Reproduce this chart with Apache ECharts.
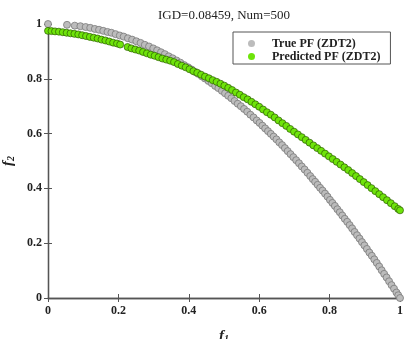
<!DOCTYPE html>
<html><head><meta charset="utf-8">
<script src="https://cdn.jsdelivr.net/npm/echarts@6/dist/echarts.min.js"></script>
<style>html,body{margin:0;padding:0;background:#fff}#c{width:404px;height:339px}</style>
</head><body><div id="c"></div>
<script>
const titleText = 'IGD=0.08459, Num=500';
const seriesNames = ['True PF (ZDT2)', 'Predicted PF (ZDT2)'];
const xTicks = [0, 0.2, 0.4, 0.6, 0.8, 1];
const yTicks = [0, 0.2, 0.4, 0.6, 0.8, 1];

const trueF1 = [0,0.054,0.076,0.092,0.107,0.120,0.133,0.145,0.157,0.169,0.180,0.192,0.204,0.215,0.227,0.239,0.251,0.263,0.275,0.287,0.299,
0.310,0.321,0.332,0.343,0.354,0.365,0.376,0.387,0.398,
0.408,0.418,0.427,0.437,0.446,0.456,0.465,0.475,0.484,0.494,0.503,0.512,0.521,0.530,0.539,0.548,0.557,0.566,0.575,0.584,0.593,
0.601,0.609,0.617,0.625,0.633,0.641,0.649,0.657,0.665,0.673,0.681,0.689,0.697,0.705,0.713,0.721,0.729,0.737,0.745,0.752,0.759,0.766,0.773,0.780,0.787,0.794,
0.801,0.808,0.815,0.822,0.829,0.836,0.843,0.850,0.857,0.864,0.871,0.878,0.885,0.892,0.899,0.906,0.913,0.920,0.927,0.934,0.941,0.948,0.955,0.962,0.969,0.976,0.983,0.990,0.995,1.000];
const trueF2 = [1.000,0.997,0.994,0.992,0.989,0.986,0.982,0.979,0.975,0.971,0.968,0.963,0.958,0.954,0.948,0.943,0.937,0.931,0.924,0.918,0.911,
0.904,0.897,0.890,0.882,0.875,0.867,0.859,0.850,0.842,
0.834,0.825,0.818,0.809,0.801,0.792,0.784,0.774,0.766,0.756,0.747,0.738,0.729,0.719,0.709,0.700,0.690,0.680,0.669,0.659,0.648,
0.639,0.629,0.619,0.609,0.599,0.589,0.579,0.568,0.558,0.547,0.536,0.525,0.514,0.503,0.492,0.480,0.469,0.457,0.445,0.434,0.424,0.413,0.402,0.392,0.381,0.370,
0.358,0.347,0.336,0.324,0.313,0.301,0.289,0.278,0.266,0.254,0.241,0.229,0.217,0.204,0.192,0.179,0.166,0.154,0.141,0.128,0.115,0.101,0.088,0.075,0.061,0.047,0.034,0.020,0.010,0.000];

const predF1 = [0.000,0.010,0.020,0.031,0.042,0.053,0.064,0.075,0.086,0.097,0.108,0.119,0.130,0.141,0.152,0.163,0.174,0.185,0.196,0.205,
0.226,0.237,0.248,0.259,0.270,0.281,0.292,0.303,0.314,0.325,0.336,0.347,0.358,0.369,0.380,0.391,0.402,0.413,0.424,0.435,0.446,0.457,0.468,0.479,0.490,
0.501,0.512,0.523,0.534,0.545,0.556,0.567,0.578,0.589,0.600,0.611,0.622,0.633,0.644,0.655,0.666,0.677,0.688,0.699,0.710,0.721,0.732,0.743,0.754,0.765,
0.776,0.787,0.798,0.809,0.820,0.831,0.842,0.853,0.864,0.875,0.886,0.897,0.908,0.919,0.930,0.941,0.952,0.963,0.974,0.985,0.995,1.000];
const predF2 = [0.975,0.974,0.973,0.972,0.970,0.968,0.966,0.964,0.962,0.959,0.956,0.953,0.950,0.947,0.943,0.940,0.936,0.932,0.929,0.925,
0.916,0.911,0.907,0.903,0.898,0.893,0.888,0.884,0.879,0.874,0.870,0.866,0.861,0.854,0.848,0.842,0.835,0.828,0.822,0.815,0.808,0.802,0.795,0.789,0.782,
0.775,0.767,0.759,0.750,0.742,0.733,0.725,0.716,0.707,0.698,0.688,0.678,0.669,0.659,0.648,0.638,0.628,0.617,0.607,0.597,0.587,0.577,0.567,0.557,0.547,
0.537,0.527,0.517,0.507,0.497,0.487,0.477,0.467,0.456,0.445,0.434,0.423,0.412,0.401,0.390,0.379,0.368,0.357,0.346,0.335,0.325,0.320];

const FONT = '"Liberation Serif", "Times New Roman", serif';
const zip = (a, b) => a.map((v, i) => [v, b[i]]);

const chart = echarts.init(document.getElementById('c'), null, {renderer: 'canvas'});
const axisLine = {show: true, lineStyle: {color: '#555', width: 1.3}};
const tick = {show: true, inside: true, length: 4, lineStyle: {color: '#555', width: 1}};
const lbl = {fontFamily: FONT, fontWeight: 'bold', fontSize: 12, color: '#222'};
const nameRich = {
  f: {fontFamily: FONT, fontStyle: 'italic', fontWeight: 'bold', fontSize: 15, color: '#222'},
  s: {fontFamily: FONT, fontStyle: 'italic', fontWeight: 'bold', fontSize: 10, color: '#222', verticalAlign: 'bottom', padding: [6, 0, 0, 0]}
};
chart.setOption({
  animation: false,
  backgroundColor: '#fff',
  title: {
    text: titleText, left: 224, top: 9, textAlign: 'center', padding: 0,
    textStyle: {fontFamily: FONT, fontWeight: 'normal', fontSize: 13, color: '#222'}
  },
  grid: {left: 48, right: 4, top: 24, bottom: 41, containLabel: false, outerBoundsMode: 'none'},
  legend: {
    orient: 'vertical', left: 233, top: 32,
    padding: [5, 10, 1, 15], itemGap: 0, itemWidth: 7, itemHeight: 7,
    borderColor: '#555', borderWidth: 1, backgroundColor: '#fff',
    data: seriesNames.map(n => ({name: n, icon: 'circle', itemStyle: {borderWidth: 0}})),
    textStyle: {fontFamily: FONT, fontWeight: 'bold', fontSize: 12, color: '#222', lineHeight: 13, padding: [0, 0, 0, 12]}
  },
  xAxis: [
    {type: 'value', min: 0, max: 1, interval: 0.2, position: 'bottom',
     axisLine, axisTick: tick, splitLine: {show: false},
     axisLabel: Object.assign({margin: 7, formatter: v => String(+v.toFixed(1))}, lbl),
     name: '{f|f}{s|1}', nameLocation: 'middle', nameGap: 30, nameTextStyle: {rich: nameRich}},
    {type: 'value', min: 0, max: 1, interval: 0.2, position: 'top',
     axisLine, axisTick: tick, axisLabel: {show: false}, splitLine: {show: false}}
  ],
  yAxis: [
    {type: 'value', min: 0, max: 1, interval: 0.2, position: 'left',
     axisLine, axisTick: tick, splitLine: {show: false},
     axisLabel: Object.assign({margin: 6, formatter: v => String(+v.toFixed(1))}, lbl),
     name: '{f|f}{s|2}', nameLocation: 'middle', nameGap: 32, nameTextStyle: {rich: nameRich}},
    {type: 'value', min: 0, max: 1, interval: 0.2, position: 'right',
     axisLine, axisTick: tick, axisLabel: {show: false}, splitLine: {show: false}}
  ],
  series: [
    {name: seriesNames[0], type: 'scatter', xAxisIndex: 0, yAxisIndex: 0, symbol: 'circle', symbolSize: 7,
     itemStyle: {color: '#bcbcbc', borderColor: '#7a7a7a', borderWidth: 0.8, opacity: 1},
     data: zip(trueF1, trueF2), z: 2},
    {name: seriesNames[1], type: 'scatter', xAxisIndex: 0, yAxisIndex: 0, symbol: 'circle', symbolSize: 7,
     itemStyle: {color: '#6ee40a', borderColor: '#2d5a05', borderWidth: 0.7, opacity: 1},
     data: zip(predF1, predF2), z: 3}
  ]
});
</script></body></html>
